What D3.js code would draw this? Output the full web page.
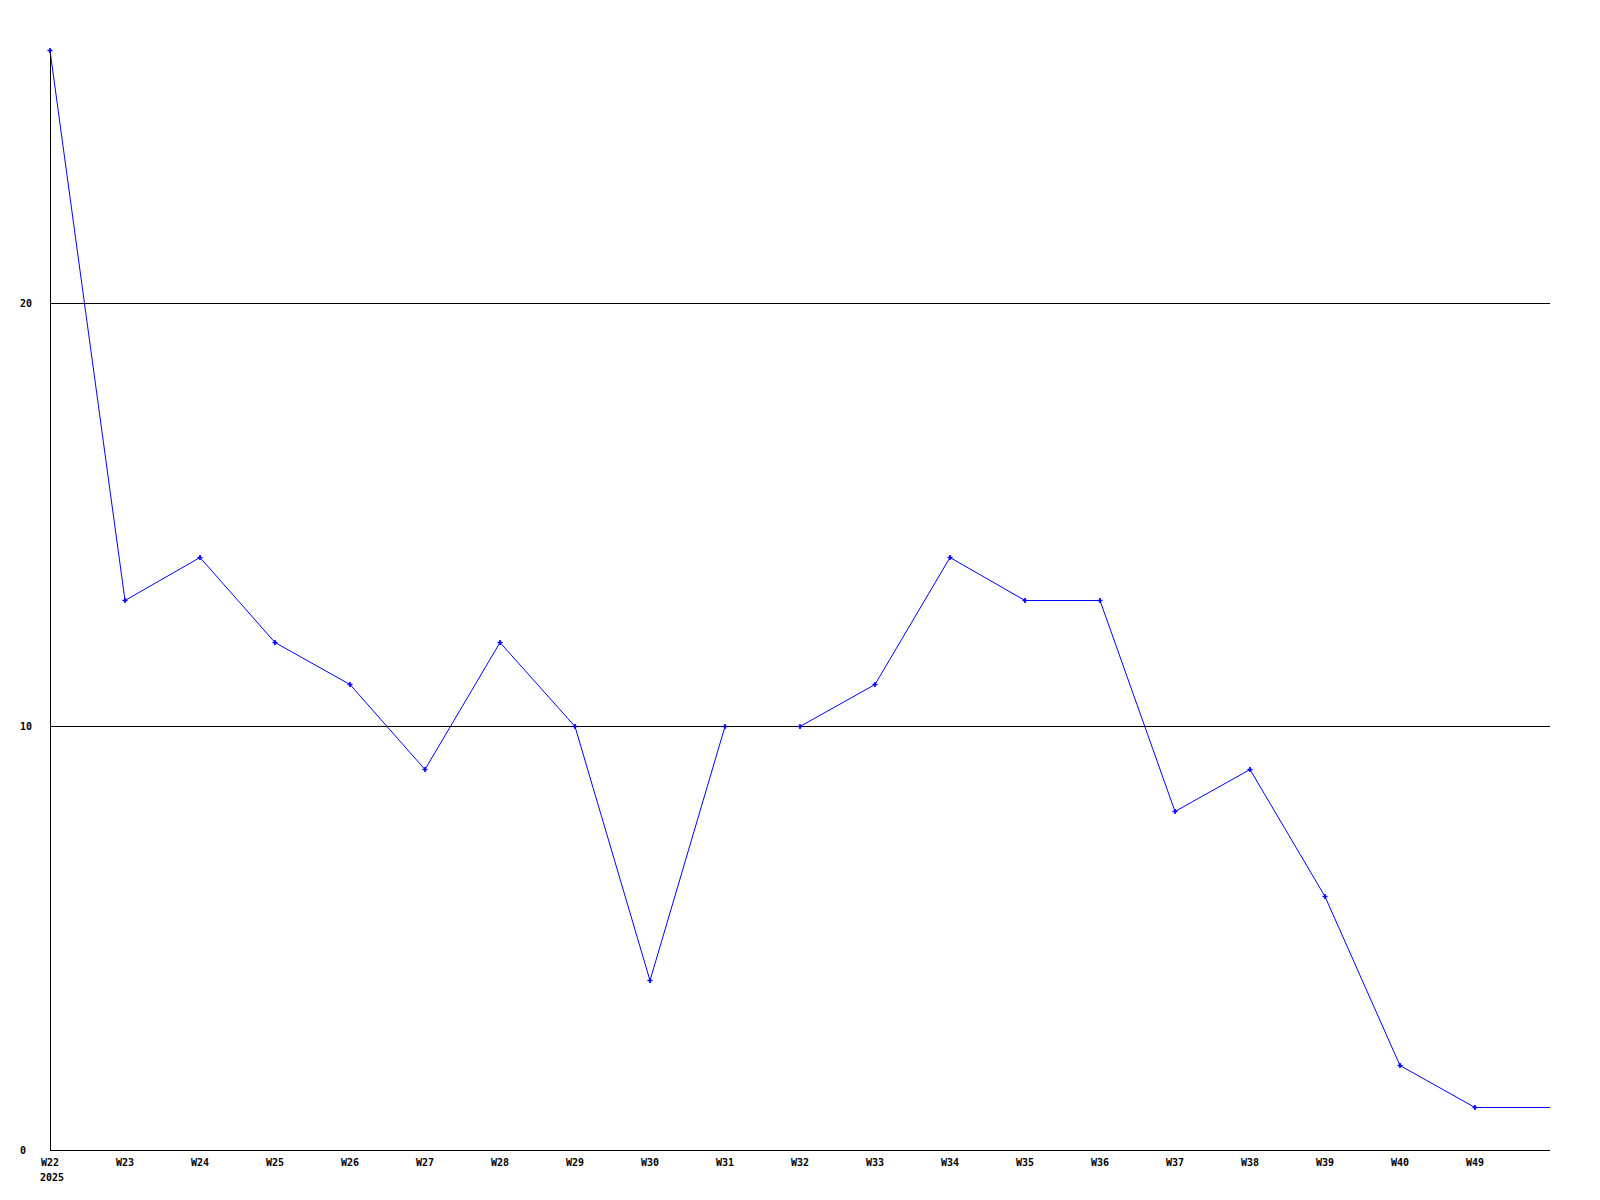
<!DOCTYPE html>
<html>
<head>
<meta charset="utf-8">
<script src="https://cdn.jsdelivr.net/npm/d3@7"></script>
<style>
  body { margin: 0; background: #fff; }
  text { font-family: "DejaVu Sans Mono", monospace; font-weight: bold; font-size: 10px; fill: #000; }
</style>
</head>
<body>
<script>
// weekly counts
var weeks = ["W22", "W23", "W24", "W25", "W26", "W27", "W28", "W29", "W30", "W31",
             "W32", "W33", "W34", "W35", "W36", "W37", "W38", "W39", "W40", "W49"];
var counts = [26, 13, 14, 12, 11, 9, 12, 10, 4, 10,
              10, 11, 14, 13, 13, 8, 9, 6, 2, 1];
var yTicks = [0, 10, 20];
var yearLabel = "2025";

var width = 1600;
var height = 1200;
// note: "top" is taken by window.top, so plot edges get a prefix
var plotLeft = 50, plotRight = 1550, plotTop = 50, plotBottom = 1150;

var svg = d3.select("body")
    .append("svg")
    .attr("width", width)
    .attr("height", height);

// one slot per week, plus an extra slot at the end where the line runs on
var x = d3.scaleLinear()
    .domain([0, weeks.length])
    .range([plotLeft, plotRight]);
var y = d3.scaleLinear()
    .domain([0, 26])
    .range([plotBottom, plotTop]);

// snap to pixel rows so lines stay crisp
function py(v) { return Math.floor(y(v)) + 0.5; }

// line, continued flat to the right edge
var pts = counts.map(function(v, i){ return [x(i), py(v)]; });
pts.push([x(weeks.length), py(counts[counts.length - 1])]);

svg.append("path")
    .attr("d", d3.line()(pts))
    .style("fill", "none")
    .style("stroke", "#0000ff")
    .style("stroke-width", 1);

// grid lines (drawn over the line, like the original)
svg.selectAll("line.grid")
    .data(yTicks.filter(function(d){ return d > 0; }))
    .enter()
    .append("line")
    .attr("class", "grid")
    .attr("x1", plotLeft)
    .attr("x2", plotRight)
    .attr("y1", function(d){ return py(d); })
    .attr("y2", function(d){ return py(d); })
    .style("stroke", "#000")
    .style("stroke-width", 1);

// axes
svg.append("line")
    .attr("x1", plotLeft + 0.5).attr("x2", plotLeft + 0.5)
    .attr("y1", plotTop).attr("y2", plotBottom)
    .style("stroke", "#000");
svg.append("line")
    .attr("x1", plotLeft).attr("x2", plotRight)
    .attr("y1", plotBottom + 0.5).attr("y2", plotBottom + 0.5)
    .style("stroke", "#000");

// y labels
svg.selectAll("text.ylab")
    .data(yTicks)
    .enter()
    .append("text")
    .attr("class", "ylab")
    .attr("x", 20)
    .attr("y", function(d){ return y(d); })
    .attr("dy", "0.35em")
    .text(function(d){ return d; });

// x labels
svg.selectAll("text.xlab")
    .data(weeks)
    .enter()
    .append("text")
    .attr("class", "xlab")
    .attr("x", function(d, i){ return x(i); })
    .attr("y", 1166)
    .attr("text-anchor", "middle")
    .text(function(d){ return d; });

svg.append("text")
    .attr("x", x(0) + 2)
    .attr("y", 1181)
    .attr("text-anchor", "middle")
    .text(yearLabel);

svg.selectAll("path.mark")
    .data(counts)
    .enter()
    .append("path")
    .attr("class", "mark")
    .attr("transform", function(d, i){ return "translate(" + x(i) + "," + py(d) + ")"; })
    .attr("d", d3.symbol().type(d3.symbolCross).size(14))
    .style("fill", "#0000ff");
</script>
</body>
</html>
